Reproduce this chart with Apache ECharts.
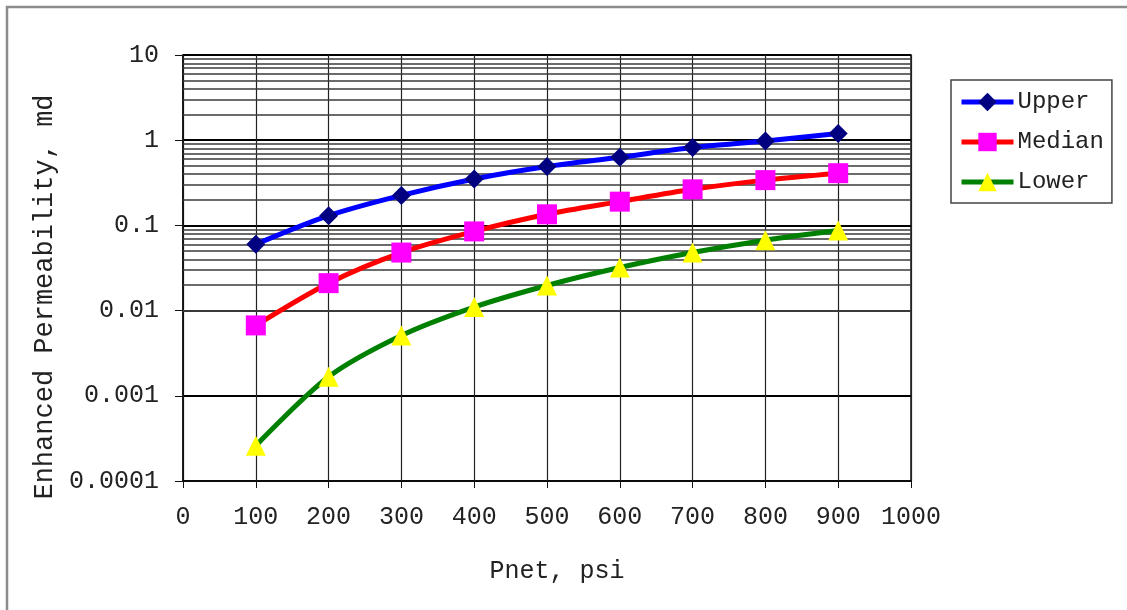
<!DOCTYPE html>
<html>
<head>
<meta charset="utf-8">
<script src="https://cdn.jsdelivr.net/npm/echarts@6/dist/echarts.min.js"></script>
<style>
  html, body { margin: 0; padding: 0; background: #fff; }
  #chart { width: 1127px; height: 610px; }
</style>
</head>
<body>
<div id="chart"></div>
<script>
// values
const pnet = [100, 200, 300, 400, 500, 600, 700, 800, 900];
const upper = [0.06, 0.13, 0.225, 0.35, 0.49, 0.63, 0.82, 0.98, 1.2];
const median = [0.0067, 0.021, 0.048, 0.085, 0.135, 0.19, 0.265, 0.34, 0.41];
const lower = [0.00026, 0.00167, 0.0051, 0.011, 0.0197, 0.032, 0.048, 0.067, 0.087];
const yTickLabels = ['0.0001', '0.001', '0.01', '0.1', '1', '10'];
const seriesNames = ['Upper', 'Median', 'Lower'];

const font = 'Liberation Mono';

// minor log gridlines: 2..9 within each decade
const minorLines = [];
for (let d = -4; d < 1; d++) {
    for (let m = 2; m <= 9; m++) {
        minorLines.push({ yAxis: +(m * Math.pow(10, d)).toPrecision(3) });
    }
}

const chart = echarts.init(document.getElementById('chart'), null, { renderer: 'canvas' });

function toPairs(ys) {
    return pnet.map((x, i) => [x, ys[i]]);
}

const option = {
    backgroundColor: '#fff',
    animation: false,
    graphic: [
        {
            type: 'rect',
            shape: { x: 7, y: 7, width: 1300, height: 800 },
            style: { fill: 'none', stroke: '#8c8c8c', lineWidth: 2.5 },
            silent: true
        },
        {
            type: 'text',
            x: 45,
            y: 297,
            rotation: Math.PI / 2,
            style: {
                text: 'Enhanced Permeability, md',
                font: '27px "' + font + '"',
                fill: '#222',
                align: 'center',
                verticalAlign: 'middle'
            }
        }
    ],
    legend: {
        data: seriesNames,
        orient: 'vertical',
        left: 951,
        top: 80,
        padding: [10, 8, 9, 8],
        itemWidth: 52,
        itemHeight: 23,
        itemGap: 16,
        borderColor: '#444',
        borderWidth: 1.5,
        lineStyle: { width: 5 },
        textStyle: { fontFamily: font, fontSize: 24, color: '#222', padding: [0, 0, 0, -1] }
    },
    grid: {
        left: 183,
        right: 216,
        top: 55,
        bottom: 129,
        show: true,
        borderColor: '#111',
        borderWidth: 1.5,
        containLabel: false
    },
    xAxis: {
        type: 'value',
        min: 0,
        max: 1000,
        interval: 100,
        name: 'Pnet, psi',
        nameLocation: 'middle',
        nameGap: 78,
        nameTextStyle: { fontFamily: font, fontSize: 25, color: '#222', padding: [0, 0, 0, 20] },
        axisLine: { lineStyle: { color: '#111', width: 1.5 } },
        axisTick: { show: true, inside: false, length: 7, lineStyle: { color: '#111' } },
        axisLabel: { fontFamily: font, fontSize: 25, color: '#222', margin: 24, formatter: (v) => String(v) },
        splitLine: { show: true, lineStyle: { color: '#222', width: 1.2 } }
    },
    yAxis: {
        type: 'log',
        logBase: 10,
        min: 0.0001,
        max: 10,
        axisLine: { show: true, lineStyle: { color: '#111', width: 1.5 } },
        axisTick: { show: true, inside: false, length: 8, lineStyle: { color: '#111' } },
        axisLabel: {
            fontFamily: font,
            fontSize: 25,
            color: '#222',
            margin: 24,
            formatter: (v) => {
                const idx = Math.round(Math.log10(v)) + 4;
                return yTickLabels[idx] !== undefined ? yTickLabels[idx] : '';
            }
        },
        splitLine: { show: true, lineStyle: { color: '#000', width: 2 } }
    },
    series: [
        {
            name: 'minor-grid',
            type: 'line',
            data: [],
            silent: true,
            z: 1,
            markLine: {
                silent: true,
                symbol: ['none', 'none'],
                label: { show: false },
                lineStyle: { color: '#3a3a3a', width: 1.5, type: 'solid' },
                emphasis: { disabled: true },
                animation: false,
                data: minorLines
            }
        },
        {
            name: 'Upper',
            type: 'line',
            data: toPairs(upper),
            smooth: 0.3,
            symbol: 'diamond',
            symbolSize: 19,
            lineStyle: { color: '#0000ff', width: 5 },
            itemStyle: { color: '#000080' },
            z: 5
        },
        {
            name: 'Median',
            type: 'line',
            data: toPairs(median),
            smooth: 0.3,
            symbol: 'rect',
            symbolSize: 20,
            lineStyle: { color: '#ff0000', width: 5 },
            itemStyle: { color: '#ff00ff' },
            z: 5
        },
        {
            name: 'Lower',
            type: 'line',
            data: toPairs(lower),
            smooth: 0.3,
            symbol: 'triangle',
            symbolSize: 20,
            lineStyle: { color: '#008000', width: 5 },
            itemStyle: { color: '#ffff00' },
            z: 5
        }
    ]
};

chart.setOption(option);
window.addEventListener('resize', () => chart.resize());
</script>
</body>
</html>
